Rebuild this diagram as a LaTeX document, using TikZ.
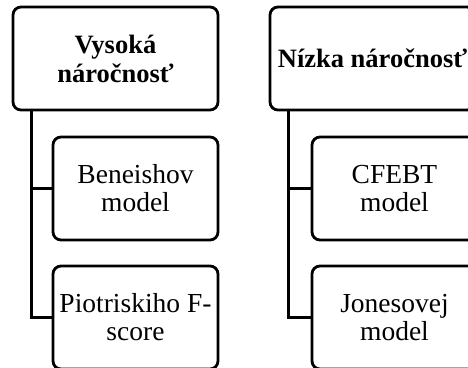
\documentclass[tikz,border=0pt]{standalone}
\usepackage{fontspec}
\setmainfont{Liberation Serif}
\usepackage{tikz}
\usetikzlibrary{positioning,calc}

\begin{document}
\begin{tikzpicture}[x=1pt, y=-1pt,
    topbox/.style={draw, line width=2.8pt, rounded corners=8pt, minimum width=205pt,
      minimum height=103pt, align=center, inner sep=0pt,
      font=\fontsize{26.5}{29}\selectfont\bfseries},
    subbox/.style={draw, line width=2.8pt, rounded corners=8pt, minimum width=165pt,
      minimum height=103pt, align=center, inner sep=0pt,
      font=\fontsize{27.5}{28}\selectfont},
    link/.style={line width=2.8pt}]
  \useasboundingbox (0,0) rectangle (468,367);
  \clip (0,0) rectangle (468,367);
  % left column
  \node[topbox] (vys) at (115.5,58.5) {Vysoká\\náročnosť};
  \node[subbox] (ben) at (135.5,188.5) {Beneishov\\model};
  \node[subbox] (pio) at (135.5,317.5) {Piotriskiho F-\\score};
  \draw[link] ([xshift=20pt]vys.south west) |- (ben.west);
  \draw[link] ([xshift=20pt]vys.south west) |- (pio.west);
  % right column
  \node[topbox] (niz) at (372.5,58.5) {Nízka náročnosť};
  \node[subbox] (cfe) at (394.5,188.5) {CFEBT\\model};
  \node[subbox] (jon) at (394.5,317.5) {Jonesovej\\model};
  \draw[link] ([xshift=20pt]niz.south west) |- (cfe.west);
  \draw[link] ([xshift=20pt]niz.south west) |- (jon.west);
\end{tikzpicture}
\end{document}
